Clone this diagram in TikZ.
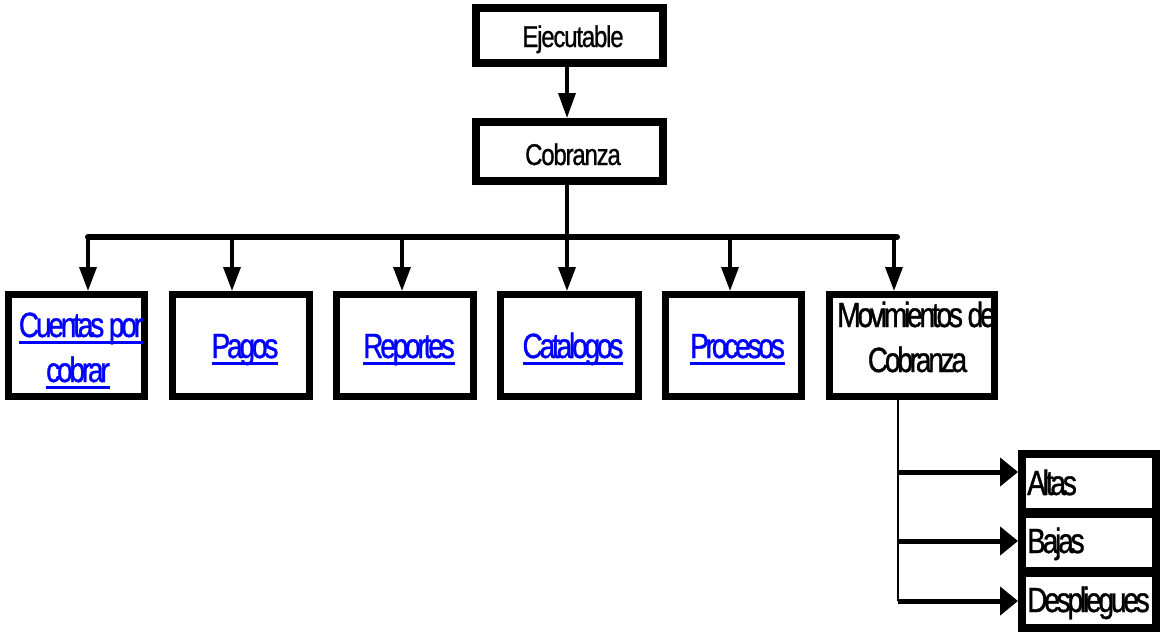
\documentclass[tikz,border=0pt]{standalone}
\usepackage{fontspec}
\setmainfont{Liberation Sans}
% narrow, tightly tracked faces for the menu labels
\newfontfamily\narrowA[FakeStretch=0.8,LetterSpace=-9,FakeBold=1]{Liberation Sans}
\newfontfamily\narrowB[FakeStretch=0.8,LetterSpace=-4,FakeBold=0.8]{Liberation Sans}
\usetikzlibrary{arrows.meta}
\definecolor{linkblue}{RGB}{0,0,255}
% underlined hyperlink look with a heavy rule
\newsavebox\lnkbox
\newcommand\lnk[1]{\sbox\lnkbox{#1}\leavevmode\rlap{\usebox\lnkbox}\rule[-7pt]{\wd\lnkbox}{3pt}}

\begin{document}
\begin{tikzpicture}[x=1pt,y=-1pt,
  box/.style={draw=black, fill=white, rectangle, inner sep=0pt},
  topbox/.style={box, line width=8pt, minimum width=187pt},
  midbox/.style={box, line width=7pt, minimum width=#1, minimum height=102pt},
  subbox/.style={box, line width=8pt, minimum width=134pt},
  lbl/.style={inner sep=0pt, anchor=base, font=\narrowA\fontsize{35}{42}\selectfont},
  toplbl/.style={lbl, font=\narrowB\fontsize{30}{36}\selectfont},
  link/.style={lbl, text=linkblue},
  sublbl/.style={lbl, anchor=base west},
  darrow/.style={line width=3.5pt, -{Triangle[length=24pt,width=17pt]}},
  harrow/.style={line width=5pt, -{Triangle[length=18pt,width=28pt]}},
  busline/.style={line width=6pt, line cap=round},
  stem/.style={line width=3.5pt},
  thinstem/.style={line width=2pt}
]
\fill[white] (0,0) rectangle (1160,632);
\useasboundingbox (0,0) rectangle (1160,632);

% top of the hierarchy
\node[topbox, minimum height=55pt] (ej) at (569.5,35.5) {};
\node[topbox, minimum height=59pt] (co) at (569.5,151.5) {};
\node[toplbl] (ejt) at (573,47) {Ejecutable};
\node[toplbl] (cot) at (573,165) {Cobranza};

% second level boxes
\node[midbox=136pt] (b1) at (76.5,345.5) {};
\node[midbox=137pt] (b2) at (241,345.5) {};
\node[midbox=137pt] (b3) at (405,345.5) {};
\node[midbox=138pt] (b4) at (569.5,345.5) {};
\node[midbox=136pt] (b5) at (733.5,345.5) {};
\node[midbox=165pt] (b6) at (912,345.5) {};

\node[link] (t1a) at (81,337) {\lnk{Cuentas por}};
\node[link] (t1b) at (78,382) {\lnk{cobrar}};
\node[link] (t2) at (245,358) {\lnk{Pagos}};
\node[link] (t3) at (409,358) {\lnk{Reportes}};
\node[link] (t4) at (573,358) {\lnk{Catalogos}};
\node[link] (t5) at (737.5,358) {\lnk{Procesos}};
\node[lbl] (t6a) at (916.5,327) {Movimientos de};
\node[lbl] (t6b) at (917.5,372) {Cobranza};

% third level boxes
\node[subbox, minimum height=58pt] (s1) at (1089,483) {};
\node[subbox, minimum height=57pt] (s2) at (1089,542.5) {};
\node[subbox, minimum height=55pt] (s3) at (1089,600.5) {};
\node[sublbl] (s1t) at (1027,495) {Altas};
\node[sublbl] (s2t) at (1027,553) {Bajas};
\node[sublbl] (s3t) at (1027,612) {Despliegues};

% drop points on the bus
\coordinate (d1) at (88,237);
\coordinate (d2) at (232,237);
\coordinate (d3) at (402,237);
\coordinate (d4) at (567,237);
\coordinate (d5) at (730,237);
\coordinate (d6) at (894,237);
\coordinate (busR) at (897,237);

% branch points below Movimientos de Cobranza
\coordinate (h1) at (898,472);
\coordinate (h2) at (898,541);
\coordinate (h3) at (898,601);

% connectors
\draw[darrow, -{Triangle[length=25pt,width=17pt]}] (d4 |- ej.south) -- (d4 |- co.north);
\draw[stem] (d4 |- co.south) -- (d4);
\draw[busline] (d1) -- (busR);
\foreach \d/\b in {d1/b1, d2/b2, d3/b3, d4/b4, d5/b5, d6/b6}
  \draw[darrow] (\d) -- (\d |- \b.north);

\draw[thinstem] (h1 |- b6.south) -- (h3);
\draw[harrow] (h1) -- (h1 -| s1.west);
\draw[harrow] (h2) -- (h2 -| s2.west);
\draw[harrow] (h3) -- (h3 -| s3.west);
\end{tikzpicture}
\end{document}
